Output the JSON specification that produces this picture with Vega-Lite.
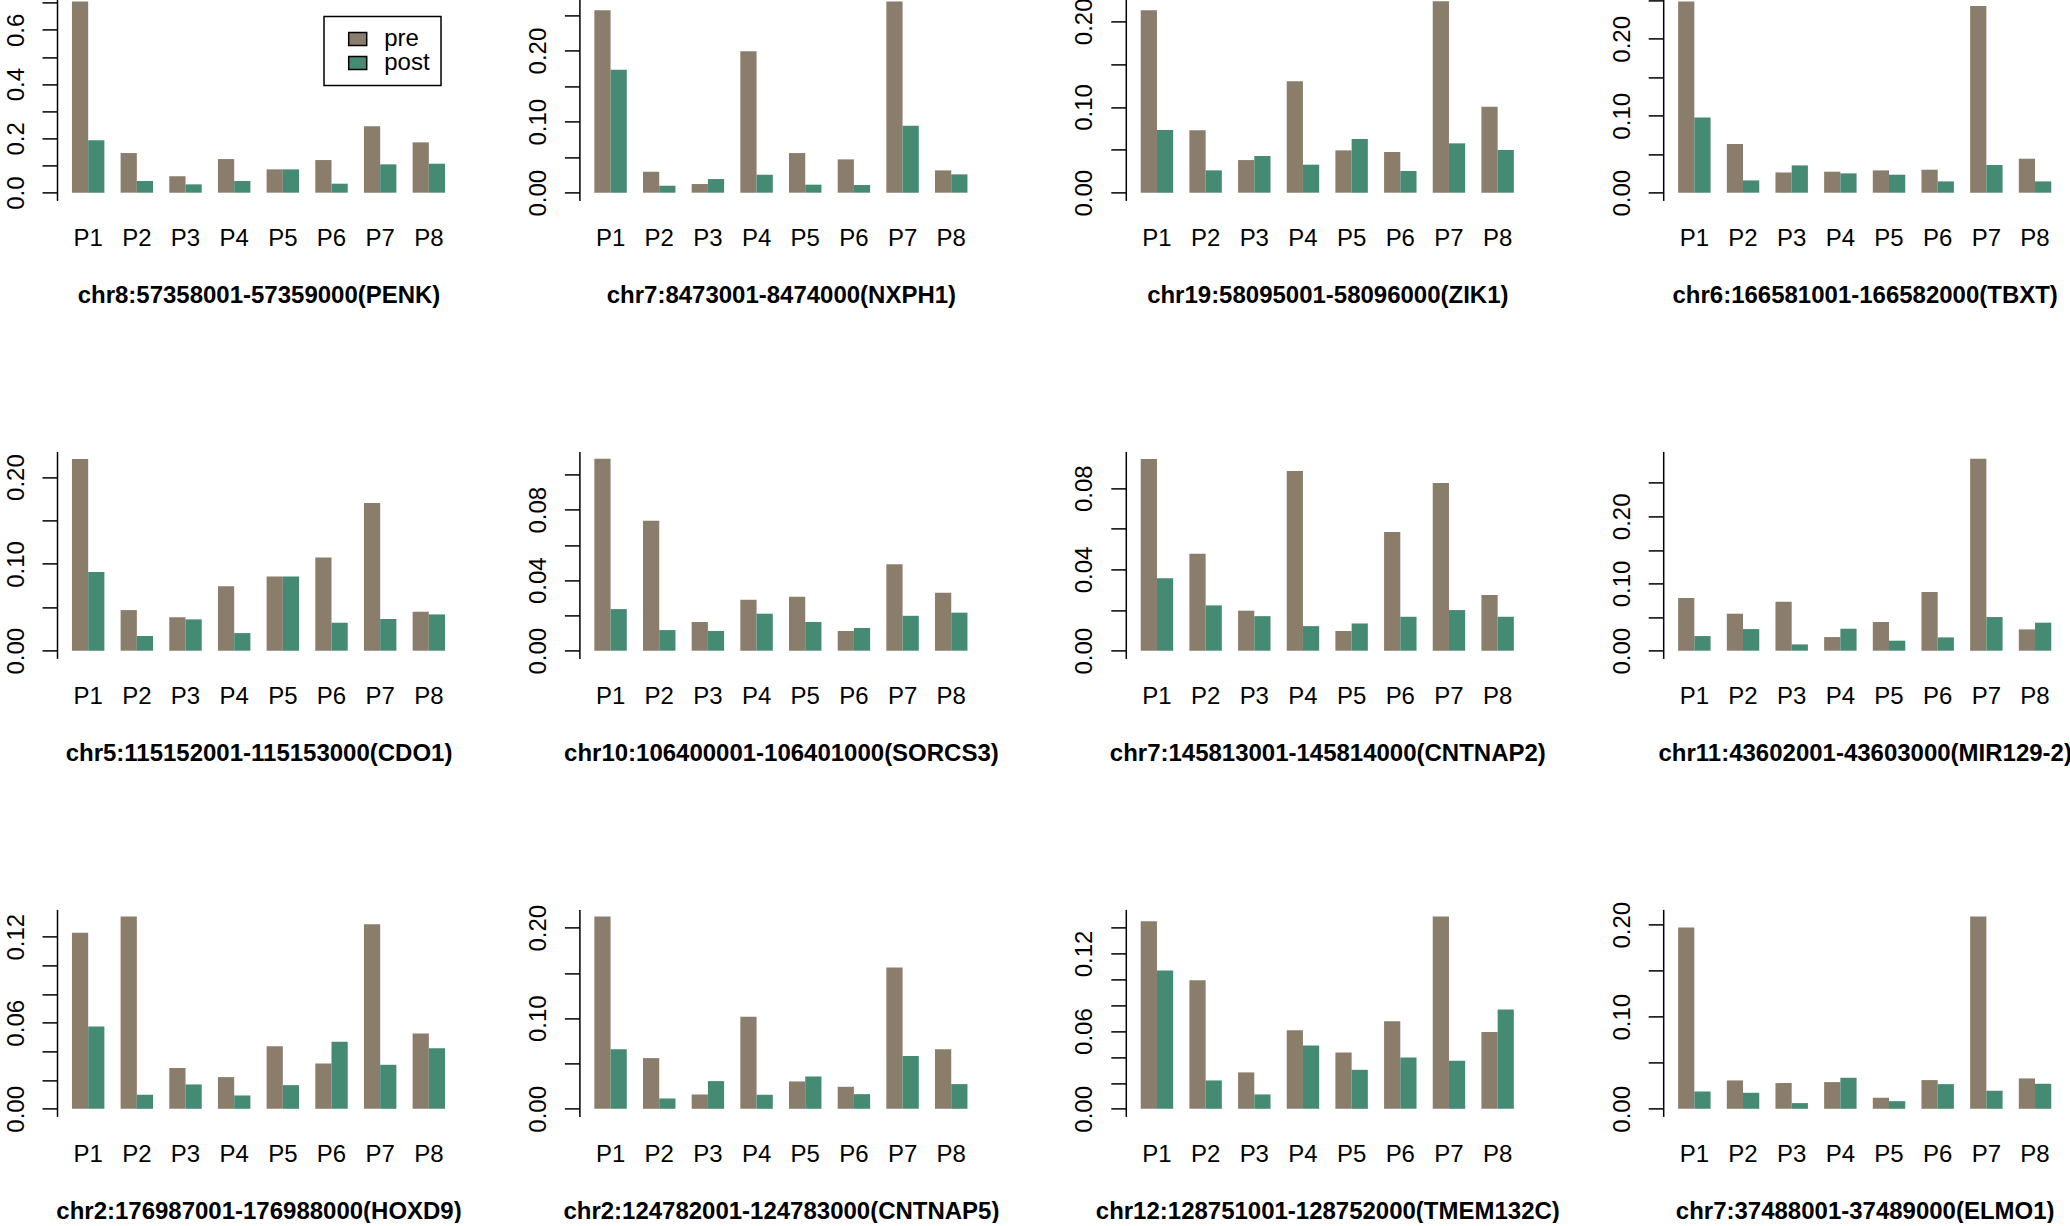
{
"$schema": "https://vega.github.io/schema/vega-lite/v6.json",
"background": "white",
"padding": {"left": 3, "top": -2.6, "right": 0, "bottom": 0},
"bounds": "flush",
"columns": 4,
"spacing": {"row": 251, "column": 119.4},
"resolve": {"scale": {"color": "independent"}, "legend": {"color": "independent"}},
"datasets": {
"d": [
{"g":"PENK","p":"P1","t":"pre","v":0.7049},{"g":"PENK","p":"P1","t":"post","v":0.1929},
{"g":"PENK","p":"P2","t":"pre","v":0.1461},{"g":"PENK","p":"P2","t":"post","v":0.043},
{"g":"PENK","p":"P3","t":"pre","v":0.0602},{"g":"PENK","p":"P3","t":"post","v":0.0307},
{"g":"PENK","p":"P4","t":"pre","v":0.124},{"g":"PENK","p":"P4","t":"post","v":0.043},
{"g":"PENK","p":"P5","t":"pre","v":0.086},{"g":"PENK","p":"P5","t":"post","v":0.086},
{"g":"PENK","p":"P6","t":"pre","v":0.1203},{"g":"PENK","p":"P6","t":"post","v":0.0332},
{"g":"PENK","p":"P7","t":"pre","v":0.2444},{"g":"PENK","p":"P7","t":"post","v":0.1044},
{"g":"PENK","p":"P8","t":"pre","v":0.1854},{"g":"PENK","p":"P8","t":"post","v":0.1068},

{"g":"NXPH1","p":"P1","t":"pre","v":0.2566},{"g":"NXPH1","p":"P1","t":"post","v":0.1731},
{"g":"NXPH1","p":"P2","t":"pre","v":0.0295},{"g":"NXPH1","p":"P2","t":"post","v":0.0098},
{"g":"NXPH1","p":"P3","t":"pre","v":0.0122},{"g":"NXPH1","p":"P3","t":"post","v":0.0192},
{"g":"NXPH1","p":"P4","t":"pre","v":0.1989},{"g":"NXPH1","p":"P4","t":"post","v":0.0253},
{"g":"NXPH1","p":"P5","t":"pre","v":0.0558},{"g":"NXPH1","p":"P5","t":"post","v":0.0113},
{"g":"NXPH1","p":"P6","t":"pre","v":0.0469},{"g":"NXPH1","p":"P6","t":"post","v":0.0108},
{"g":"NXPH1","p":"P7","t":"pre","v":0.2692},{"g":"NXPH1","p":"P7","t":"post","v":0.0943},
{"g":"NXPH1","p":"P8","t":"pre","v":0.0314},{"g":"NXPH1","p":"P8","t":"post","v":0.0258},

{"g":"ZIK1","p":"P1","t":"pre","v":0.2128},{"g":"ZIK1","p":"P1","t":"post","v":0.0732},
{"g":"ZIK1","p":"P2","t":"pre","v":0.0728},{"g":"ZIK1","p":"P2","t":"post","v":0.0261},
{"g":"ZIK1","p":"P3","t":"pre","v":0.0381},{"g":"ZIK1","p":"P3","t":"post","v":0.0428},
{"g":"ZIK1","p":"P4","t":"pre","v":0.13},{"g":"ZIK1","p":"P4","t":"post","v":0.0327},
{"g":"ZIK1","p":"P5","t":"pre","v":0.0494},{"g":"ZIK1","p":"P5","t":"post","v":0.0626},
{"g":"ZIK1","p":"P6","t":"pre","v":0.0475},{"g":"ZIK1","p":"P6","t":"post","v":0.0253},
{"g":"ZIK1","p":"P7","t":"pre","v":0.2233},{"g":"ZIK1","p":"P7","t":"post","v":0.0576},
{"g":"ZIK1","p":"P8","t":"pre","v":0.1004},{"g":"ZIK1","p":"P8","t":"post","v":0.0498},

{"g":"TBXT","p":"P1","t":"pre","v":0.2487},{"g":"TBXT","p":"P1","t":"post","v":0.0979},
{"g":"TBXT","p":"P2","t":"pre","v":0.0633},{"g":"TBXT","p":"P2","t":"post","v":0.016},
{"g":"TBXT","p":"P3","t":"pre","v":0.0264},{"g":"TBXT","p":"P3","t":"post","v":0.0355},
{"g":"TBXT","p":"P4","t":"pre","v":0.0273},{"g":"TBXT","p":"P4","t":"post","v":0.0251},
{"g":"TBXT","p":"P5","t":"pre","v":0.029},{"g":"TBXT","p":"P5","t":"post","v":0.0234},
{"g":"TBXT","p":"P6","t":"pre","v":0.0299},{"g":"TBXT","p":"P6","t":"post","v":0.0147},
{"g":"TBXT","p":"P7","t":"pre","v":0.2426},{"g":"TBXT","p":"P7","t":"post","v":0.036},
{"g":"TBXT","p":"P8","t":"pre","v":0.0442},{"g":"TBXT","p":"P8","t":"post","v":0.0147},

{"g":"CDO1","p":"P1","t":"pre","v":0.2207},{"g":"CDO1","p":"P1","t":"post","v":0.0906},
{"g":"CDO1","p":"P2","t":"pre","v":0.0468},{"g":"CDO1","p":"P2","t":"post","v":0.0169},
{"g":"CDO1","p":"P3","t":"pre","v":0.0384},{"g":"CDO1","p":"P3","t":"post","v":0.0361},
{"g":"CDO1","p":"P4","t":"pre","v":0.0741},{"g":"CDO1","p":"P4","t":"post","v":0.0203},
{"g":"CDO1","p":"P5","t":"pre","v":0.0856},{"g":"CDO1","p":"P5","t":"post","v":0.0856},
{"g":"CDO1","p":"P6","t":"pre","v":0.1075},{"g":"CDO1","p":"P6","t":"post","v":0.0322},
{"g":"CDO1","p":"P7","t":"pre","v":0.1701},{"g":"CDO1","p":"P7","t":"post","v":0.0365},
{"g":"CDO1","p":"P8","t":"pre","v":0.0449},{"g":"CDO1","p":"P8","t":"post","v":0.0418},

{"g":"SORCS3","p":"P1","t":"pre","v":0.1089},{"g":"SORCS3","p":"P1","t":"post","v":0.0236},
{"g":"SORCS3","p":"P2","t":"pre","v":0.0737},{"g":"SORCS3","p":"P2","t":"post","v":0.0117},
{"g":"SORCS3","p":"P3","t":"pre","v":0.0163},{"g":"SORCS3","p":"P3","t":"post","v":0.0112},
{"g":"SORCS3","p":"P4","t":"pre","v":0.0289},{"g":"SORCS3","p":"P4","t":"post","v":0.021},
{"g":"SORCS3","p":"P5","t":"pre","v":0.0306},{"g":"SORCS3","p":"P5","t":"post","v":0.0163},
{"g":"SORCS3","p":"P6","t":"pre","v":0.0112},{"g":"SORCS3","p":"P6","t":"post","v":0.0129},
{"g":"SORCS3","p":"P7","t":"pre","v":0.0491},{"g":"SORCS3","p":"P7","t":"post","v":0.0198},
{"g":"SORCS3","p":"P8","t":"pre","v":0.0329},{"g":"SORCS3","p":"P8","t":"post","v":0.0216},

{"g":"CNTNAP2","p":"P1","t":"pre","v":0.0943},{"g":"CNTNAP2","p":"P1","t":"post","v":0.0356},
{"g":"CNTNAP2","p":"P2","t":"pre","v":0.0477},{"g":"CNTNAP2","p":"P2","t":"post","v":0.0223},
{"g":"CNTNAP2","p":"P3","t":"pre","v":0.0197},{"g":"CNTNAP2","p":"P3","t":"post","v":0.017},
{"g":"CNTNAP2","p":"P4","t":"pre","v":0.0884},{"g":"CNTNAP2","p":"P4","t":"post","v":0.0121},
{"g":"CNTNAP2","p":"P5","t":"pre","v":0.0097},{"g":"CNTNAP2","p":"P5","t":"post","v":0.0134},
{"g":"CNTNAP2","p":"P6","t":"pre","v":0.0584},{"g":"CNTNAP2","p":"P6","t":"post","v":0.0167},
{"g":"CNTNAP2","p":"P7","t":"pre","v":0.0826},{"g":"CNTNAP2","p":"P7","t":"post","v":0.02},
{"g":"CNTNAP2","p":"P8","t":"pre","v":0.0274},{"g":"CNTNAP2","p":"P8","t":"post","v":0.0167},

{"g":"MIR129-2","p":"P1","t":"pre","v":0.0784},{"g":"MIR129-2","p":"P1","t":"post","v":0.0218},
{"g":"MIR129-2","p":"P2","t":"pre","v":0.0551},{"g":"MIR129-2","p":"P2","t":"post","v":0.0322},
{"g":"MIR129-2","p":"P3","t":"pre","v":0.0729},{"g":"MIR129-2","p":"P3","t":"post","v":0.0094},
{"g":"MIR129-2","p":"P4","t":"pre","v":0.0203},{"g":"MIR129-2","p":"P4","t":"post","v":0.0327},
{"g":"MIR129-2","p":"P5","t":"pre","v":0.0427},{"g":"MIR129-2","p":"P5","t":"post","v":0.0149},
{"g":"MIR129-2","p":"P6","t":"pre","v":0.0873},{"g":"MIR129-2","p":"P6","t":"post","v":0.0198},
{"g":"MIR129-2","p":"P7","t":"pre","v":0.2857},{"g":"MIR129-2","p":"P7","t":"post","v":0.0501},
{"g":"MIR129-2","p":"P8","t":"pre","v":0.0317},{"g":"MIR129-2","p":"P8","t":"post","v":0.0417},

{"g":"HOXD9","p":"P1","t":"pre","v":0.1228},{"g":"HOXD9","p":"P1","t":"post","v":0.0574},
{"g":"HOXD9","p":"P2","t":"pre","v":0.1342},{"g":"HOXD9","p":"P2","t":"post","v":0.0098},
{"g":"HOXD9","p":"P3","t":"pre","v":0.0284},{"g":"HOXD9","p":"P3","t":"post","v":0.017},
{"g":"HOXD9","p":"P4","t":"pre","v":0.0221},{"g":"HOXD9","p":"P4","t":"post","v":0.0093},
{"g":"HOXD9","p":"P5","t":"pre","v":0.0437},{"g":"HOXD9","p":"P5","t":"post","v":0.0165},
{"g":"HOXD9","p":"P6","t":"pre","v":0.0316},{"g":"HOXD9","p":"P6","t":"post","v":0.0467},
{"g":"HOXD9","p":"P7","t":"pre","v":0.1288},{"g":"HOXD9","p":"P7","t":"post","v":0.0307},
{"g":"HOXD9","p":"P8","t":"pre","v":0.0526},{"g":"HOXD9","p":"P8","t":"post","v":0.0423},

{"g":"CNTNAP5","p":"P1","t":"pre","v":0.2125},{"g":"CNTNAP5","p":"P1","t":"post","v":0.0659},
{"g":"CNTNAP5","p":"P2","t":"pre","v":0.056},{"g":"CNTNAP5","p":"P2","t":"post","v":0.0114},
{"g":"CNTNAP5","p":"P3","t":"pre","v":0.0158},{"g":"CNTNAP5","p":"P3","t":"post","v":0.0306},
{"g":"CNTNAP5","p":"P4","t":"pre","v":0.1017},{"g":"CNTNAP5","p":"P4","t":"post","v":0.0155},
{"g":"CNTNAP5","p":"P5","t":"pre","v":0.0302},{"g":"CNTNAP5","p":"P5","t":"post","v":0.0357},
{"g":"CNTNAP5","p":"P6","t":"pre","v":0.0243},{"g":"CNTNAP5","p":"P6","t":"post","v":0.0162},
{"g":"CNTNAP5","p":"P7","t":"pre","v":0.1562},{"g":"CNTNAP5","p":"P7","t":"post","v":0.0582},
{"g":"CNTNAP5","p":"P8","t":"pre","v":0.0659},{"g":"CNTNAP5","p":"P8","t":"post","v":0.0273},

{"g":"TMEM132C","p":"P1","t":"pre","v":0.1449},{"g":"TMEM132C","p":"P1","t":"post","v":0.1068},
{"g":"TMEM132C","p":"P2","t":"pre","v":0.0993},{"g":"TMEM132C","p":"P2","t":"post","v":0.0219},
{"g":"TMEM132C","p":"P3","t":"pre","v":0.0281},{"g":"TMEM132C","p":"P3","t":"post","v":0.0111},
{"g":"TMEM132C","p":"P4","t":"pre","v":0.0607},{"g":"TMEM132C","p":"P4","t":"post","v":0.0489},
{"g":"TMEM132C","p":"P5","t":"pre","v":0.0435},{"g":"TMEM132C","p":"P5","t":"post","v":0.0301},
{"g":"TMEM132C","p":"P6","t":"pre","v":0.0677},{"g":"TMEM132C","p":"P6","t":"post","v":0.0396},
{"g":"TMEM132C","p":"P7","t":"pre","v":0.1485},{"g":"TMEM132C","p":"P7","t":"post","v":0.0371},
{"g":"TMEM132C","p":"P8","t":"pre","v":0.0594},{"g":"TMEM132C","p":"P8","t":"post","v":0.0767},

{"g":"ELMO1","p":"P1","t":"pre","v":0.1971},{"g":"ELMO1","p":"P1","t":"post","v":0.0188},
{"g":"ELMO1","p":"P2","t":"pre","v":0.0308},{"g":"ELMO1","p":"P2","t":"post","v":0.0174},
{"g":"ELMO1","p":"P3","t":"pre","v":0.0279},{"g":"ELMO1","p":"P3","t":"post","v":0.0062},
{"g":"ELMO1","p":"P4","t":"pre","v":0.029},{"g":"ELMO1","p":"P4","t":"post","v":0.0337},
{"g":"ELMO1","p":"P5","t":"pre","v":0.012},{"g":"ELMO1","p":"P5","t":"post","v":0.0083},
{"g":"ELMO1","p":"P6","t":"pre","v":0.0312},{"g":"ELMO1","p":"P6","t":"post","v":0.0268},
{"g":"ELMO1","p":"P7","t":"pre","v":0.2091},{"g":"ELMO1","p":"P7","t":"post","v":0.0196},
{"g":"ELMO1","p":"P8","t":"pre","v":0.033},{"g":"ELMO1","p":"P8","t":"post","v":0.0272}
]
},
"concat": [
{"width": 403, "height": 201, "data": {"name": "d"}, "transform": [{"filter": "datum.g === 'PENK'"}], "mark": "bar",
 "encoding": {
  "x": {"field": "p", "type": "nominal", "scale": {"range": [0, 403], "paddingInner": 0.3333, "paddingOuter": 0.307}, "axis": {"title": "chr8:57358001-57359000(PENK)"}},
  "xOffset": {"field": "t", "type": "nominal", "sort": ["pre", "post"], "scale": {"paddingInner": 0, "paddingOuter": 0}},
  "y": {"field": "v", "type": "quantitative", "scale": {"domain": [-0.0284, 0.7122], "nice": false, "zero": true}, "axis": {"values": [0, 0.1, 0.2, 0.3, 0.4, 0.5, 0.6, 0.7], "format": ".1f", "labelExpr": "round(datum.value*10) % 2 == 0 ? datum.label : ''"}},
  "color": {"field": "t", "type": "nominal", "sort": ["pre", "post"], "scale": {"domain": ["pre", "post"], "range": ["#8B7D6B", "#458B74"]},
   "legend": {"orient": "none", "legendX": 267, "legendY": 17.2, "title": null, "strokeColor": "black", "fillColor": "white", "padding": 10.5, "symbolOffset": 11.2, "symbolType": "M-1,-0.72H1V0.72H-1Z", "symbolSize": 324, "symbolStrokeColor": "black", "symbolStrokeWidth": 1.5, "symbolOpacity": 1, "labelFontSize": 24, "labelColor": "black", "labelFont": "Liberation Sans", "labelOffset": 14.5, "rowPadding": -2.7}}
 }},
{"width": 427, "height": 201, "data": {"name": "d"}, "transform": [{"filter": "datum.g === 'NXPH1'"}], "mark": "bar",
 "encoding": {
  "x": {"field": "p", "type": "nominal", "scale": {"range": [0, 403], "paddingInner": 0.3333, "paddingOuter": 0.307}, "axis": {"title": "chr7:8473001-8474000(NXPH1)"}},
  "xOffset": {"field": "t", "type": "nominal", "sort": ["pre", "post"], "scale": {"paddingInner": 0, "paddingOuter": 0}},
  "y": {"field": "v", "type": "quantitative", "scale": {"domain": [-0.01083, 0.272], "nice": false, "zero": true}, "axis": {"values": [0, 0.05, 0.1, 0.15, 0.2, 0.25], "format": ".2f", "labelExpr": "round(datum.value*100) % 10 == 0 ? datum.label : ''"}},
  "color": {"field": "t", "type": "nominal", "scale": {"domain": ["pre", "post"], "range": ["#8B7D6B", "#458B74"]}, "legend": null}
 }},
{"width": 418, "height": 201, "data": {"name": "d"}, "transform": [{"filter": "datum.g === 'ZIK1'"}], "mark": "bar",
 "encoding": {
  "x": {"field": "p", "type": "nominal", "scale": {"range": [0, 403], "paddingInner": 0.3333, "paddingOuter": 0.307}, "axis": {"title": "chr19:58095001-58096000(ZIK1)"}},
  "xOffset": {"field": "t", "type": "nominal", "sort": ["pre", "post"], "scale": {"paddingInner": 0, "paddingOuter": 0}},
  "y": {"field": "v", "type": "quantitative", "scale": {"domain": [-0.00899, 0.2256], "nice": false, "zero": true}, "axis": {"values": [0, 0.05, 0.1, 0.15, 0.2], "format": ".2f", "labelExpr": "round(datum.value*100) % 10 == 0 ? datum.label : ''"}},
  "color": {"field": "t", "type": "nominal", "scale": {"domain": ["pre", "post"], "range": ["#8B7D6B", "#458B74"]}, "legend": null}
 }},
{"width": 403, "height": 201, "data": {"name": "d"}, "transform": [{"filter": "datum.g === 'TBXT'"}], "mark": "bar",
 "encoding": {
  "x": {"field": "p", "type": "nominal", "scale": {"range": [0, 403], "paddingInner": 0.3333, "paddingOuter": 0.307}, "axis": {"title": "chr6:166581001-166582000(TBXT)"}},
  "xOffset": {"field": "t", "type": "nominal", "sort": ["pre", "post"], "scale": {"paddingInner": 0, "paddingOuter": 0}},
  "y": {"field": "v", "type": "quantitative", "scale": {"domain": [-0.01, 0.2513], "nice": false, "zero": true}, "axis": {"values": [0, 0.05, 0.1, 0.15, 0.2, 0.25], "format": ".2f", "labelExpr": "round(datum.value*100) % 10 == 0 ? datum.label : ''"}},
  "color": {"field": "t", "type": "nominal", "scale": {"domain": ["pre", "post"], "range": ["#8B7D6B", "#458B74"]}, "legend": null}
 }},
{"width": 403, "height": 207, "data": {"name": "d"}, "transform": [{"filter": "datum.g === 'CDO1'"}], "mark": "bar",
 "encoding": {
  "x": {"field": "p", "type": "nominal", "scale": {"range": [0, 403], "paddingInner": 0.3333, "paddingOuter": 0.307}, "axis": {"title": "chr5:115152001-115153000(CDO1)"}},
  "xOffset": {"field": "t", "type": "nominal", "sort": ["pre", "post"], "scale": {"paddingInner": 0, "paddingOuter": 0}},
  "y": {"field": "v", "type": "quantitative", "scale": {"domain": [-0.00887, 0.2296], "nice": false, "zero": true}, "axis": {"values": [0, 0.05, 0.1, 0.15, 0.2], "format": ".2f", "labelExpr": "round(datum.value*100) % 10 == 0 ? datum.label : ''"}},
  "color": {"field": "t", "type": "nominal", "scale": {"domain": ["pre", "post"], "range": ["#8B7D6B", "#458B74"]}, "legend": null}
 }},
{"width": 427, "height": 207, "data": {"name": "d"}, "transform": [{"filter": "datum.g === 'SORCS3'"}], "mark": "bar",
 "encoding": {
  "x": {"field": "p", "type": "nominal", "scale": {"range": [0, 403], "paddingInner": 0.3333, "paddingOuter": 0.307}, "axis": {"title": "chr10:106400001-106401000(SORCS3)"}},
  "xOffset": {"field": "t", "type": "nominal", "sort": ["pre", "post"], "scale": {"paddingInner": 0, "paddingOuter": 0}},
  "y": {"field": "v", "type": "quantitative", "scale": {"domain": [-0.00437, 0.1131], "nice": false, "zero": true}, "axis": {"values": [0, 0.02, 0.04, 0.06, 0.08, 0.1], "format": ".2f", "labelExpr": "round(datum.value*100) % 4 == 0 ? datum.label : ''"}},
  "color": {"field": "t", "type": "nominal", "scale": {"domain": ["pre", "post"], "range": ["#8B7D6B", "#458B74"]}, "legend": null}
 }},
{"width": 418, "height": 207, "data": {"name": "d"}, "transform": [{"filter": "datum.g === 'CNTNAP2'"}], "mark": "bar",
 "encoding": {
  "x": {"field": "p", "type": "nominal", "scale": {"range": [0, 403], "paddingInner": 0.3333, "paddingOuter": 0.307}, "axis": {"title": "chr7:145813001-145814000(CNTNAP2)"}},
  "xOffset": {"field": "t", "type": "nominal", "sort": ["pre", "post"], "scale": {"paddingInner": 0, "paddingOuter": 0}},
  "y": {"field": "v", "type": "quantitative", "scale": {"domain": [-0.00379, 0.0981], "nice": false, "zero": true}, "axis": {"values": [0, 0.02, 0.04, 0.06, 0.08], "format": ".2f", "labelExpr": "round(datum.value*100) % 4 == 0 ? datum.label : ''"}},
  "color": {"field": "t", "type": "nominal", "scale": {"domain": ["pre", "post"], "range": ["#8B7D6B", "#458B74"]}, "legend": null}
 }},
{"width": 403, "height": 207, "data": {"name": "d"}, "transform": [{"filter": "datum.g === 'MIR129-2'"}], "mark": "bar",
 "encoding": {
  "x": {"field": "p", "type": "nominal", "scale": {"range": [0, 403], "paddingInner": 0.3333, "paddingOuter": 0.307}, "axis": {"title": "chr11:43602001-43603000(MIR129-2)"}},
  "xOffset": {"field": "t", "type": "nominal", "sort": ["pre", "post"], "scale": {"paddingInner": 0, "paddingOuter": 0}},
  "y": {"field": "v", "type": "quantitative", "scale": {"domain": [-0.01146, 0.2967], "nice": false, "zero": true}, "axis": {"values": [0, 0.05, 0.1, 0.15, 0.2, 0.25], "format": ".2f", "labelExpr": "round(datum.value*100) % 10 == 0 ? datum.label : ''"}},
  "color": {"field": "t", "type": "nominal", "scale": {"domain": ["pre", "post"], "range": ["#8B7D6B", "#458B74"]}, "legend": null}
 }},
{"width": 403, "height": 207, "data": {"name": "d"}, "transform": [{"filter": "datum.g === 'HOXD9'"}], "mark": "bar",
 "encoding": {
  "x": {"field": "p", "type": "nominal", "scale": {"range": [0, 403], "paddingInner": 0.3333, "paddingOuter": 0.307}, "axis": {"title": "chr2:176987001-176988000(HOXD9)"}},
  "xOffset": {"field": "t", "type": "nominal", "sort": ["pre", "post"], "scale": {"paddingInner": 0, "paddingOuter": 0}},
  "y": {"field": "v", "type": "quantitative", "scale": {"domain": [-0.0053, 0.1391], "nice": false, "zero": true}, "axis": {"values": [0, 0.02, 0.04, 0.06, 0.08, 0.1, 0.12], "format": ".2f", "labelExpr": "round(datum.value*100) % 6 == 0 ? datum.label : ''"}},
  "color": {"field": "t", "type": "nominal", "scale": {"domain": ["pre", "post"], "range": ["#8B7D6B", "#458B74"]}, "legend": null}
 }},
{"width": 427, "height": 207, "data": {"name": "d"}, "transform": [{"filter": "datum.g === 'CNTNAP5'"}], "mark": "bar",
 "encoding": {
  "x": {"field": "p", "type": "nominal", "scale": {"range": [0, 403], "paddingInner": 0.3333, "paddingOuter": 0.307}, "axis": {"title": "chr2:124782001-124783000(CNTNAP5)"}},
  "xOffset": {"field": "t", "type": "nominal", "sort": ["pre", "post"], "scale": {"paddingInner": 0, "paddingOuter": 0}},
  "y": {"field": "v", "type": "quantitative", "scale": {"domain": [-0.0084, 0.2203], "nice": false, "zero": true}, "axis": {"values": [0, 0.05, 0.1, 0.15, 0.2], "format": ".2f", "labelExpr": "round(datum.value*100) % 10 == 0 ? datum.label : ''"}},
  "color": {"field": "t", "type": "nominal", "scale": {"domain": ["pre", "post"], "range": ["#8B7D6B", "#458B74"]}, "legend": null}
 }},
{"width": 418, "height": 207, "data": {"name": "d"}, "transform": [{"filter": "datum.g === 'TMEM132C'"}], "mark": "bar",
 "encoding": {
  "x": {"field": "p", "type": "nominal", "scale": {"range": [0, 403], "paddingInner": 0.3333, "paddingOuter": 0.307}, "axis": {"title": "chr12:128751001-128752000(TMEM132C)"}},
  "xOffset": {"field": "t", "type": "nominal", "sort": ["pre", "post"], "scale": {"paddingInner": 0, "paddingOuter": 0}},
  "y": {"field": "v", "type": "quantitative", "scale": {"domain": [-0.00587, 0.154], "nice": false, "zero": true}, "axis": {"values": [0, 0.02, 0.04, 0.06, 0.08, 0.1, 0.12, 0.14], "format": ".2f", "labelExpr": "round(datum.value*100) % 6 == 0 ? datum.label : ''"}},
  "color": {"field": "t", "type": "nominal", "scale": {"domain": ["pre", "post"], "range": ["#8B7D6B", "#458B74"]}, "legend": null}
 }},
{"width": 403, "height": 207, "data": {"name": "d"}, "transform": [{"filter": "datum.g === 'ELMO1'"}], "mark": "bar",
 "encoding": {
  "x": {"field": "p", "type": "nominal", "scale": {"range": [0, 403], "paddingInner": 0.3333, "paddingOuter": 0.307}, "axis": {"title": "chr7:37488001-37489000(ELMO1)"}},
  "xOffset": {"field": "t", "type": "nominal", "sort": ["pre", "post"], "scale": {"paddingInner": 0, "paddingOuter": 0}},
  "y": {"field": "v", "type": "quantitative", "scale": {"domain": [-0.00826, 0.2167], "nice": false, "zero": true}, "axis": {"values": [0, 0.05, 0.1, 0.15, 0.2], "format": ".2f", "labelExpr": "round(datum.value*100) % 10 == 0 ? datum.label : ''"}},
  "color": {"field": "t", "type": "nominal", "scale": {"domain": ["pre", "post"], "range": ["#8B7D6B", "#458B74"]}, "legend": null}
 }}
],
"config": {
 "font": "Liberation Sans",
 "view": {"stroke": null},
 "legend": {"strokeWidth": 1.5},
 "axisX": {"domain": false, "ticks": false, "tickSize": 0, "grid": false, "labelFontSize": 24, "labelColor": "black", "labelAngle": 0, "labelPadding": 45.5, "labelBaseline": "alphabetic", "labelFont": "Liberation Sans", "titleFontSize": 24, "titleFontWeight": "bold", "titleColor": "black", "titleY": 102, "titleBaseline": "alphabetic", "titleFont": "Liberation Sans"},
 "axisY": {"domainColor": "black", "domainWidth": 1.5, "tickColor": "black", "tickWidth": 1.5, "tickSize": 15, "labelFontSize": 24, "labelColor": "black", "labelFont": "Liberation Sans", "labelAngle": 270, "labelAlign": "center", "labelBaseline": "alphabetic", "labelPadding": 19, "labelOverlap": false, "labelFlush": false, "grid": false, "title": null}
}
}
